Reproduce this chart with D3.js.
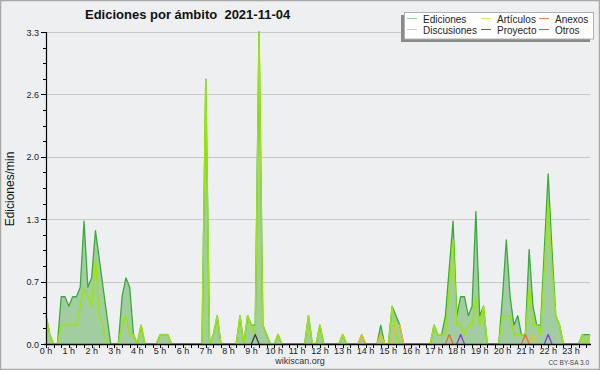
<!DOCTYPE html>
<html>
<head>
<meta charset="utf-8">
<script src="https://cdn.jsdelivr.net/npm/d3@7"></script>
<style>
html,body{margin:0;padding:0;background:#eeeff0;}
svg{display:block;}
text{font-family:"Liberation Sans",Arial,sans-serif;}
</style>
</head>
<body>
<div id="chart"></div>
<script>
// ---- data (one value per 10 minutes, edits per minute) ----
const hourLabels = ["0 h","1 h","2 h","3 h","4 h","5 h","6 h","7 h","8 h","9 h","10 h","11 h","12 h","13 h","14 h","15 h","16 h","17 h","18 h","19 h","20 h","21 h","22 h","23 h"];
const yTicks = [0, 0.66, 1.32, 1.98, 2.64, 3.3];

const ediciones = [
0.3,0.1,0,0,0.5,0.5,0.4,0.5,0.5,0.6,1.3,0.6,0.7,1.2,0.9,0.6,0.3,0,
0,0,0.5,0.7,0.6,0.1,0,0.2,0,0,0,0,0.1,0.1,0.1,0,0,0,
0,0,0,0,0,0,2.8,0,0.1,0.3,0,0,0,0,0,0.3,0,0.3,
0.2,0.2,3.3,0.2,0.1,0,0,0.1,0,0,0,0,0,0,0,0.3,0,0,
0.2,0,0,0,0,0,0.1,0,0,0,0,0.1,0,0,0,0,0.2,0,
0,0.4,0.3,0.2,0,0,0,0,0,0,0,0,0.2,0.1,0.1,0.3,0.8,1.3,
0.3,0.5,0.5,0.3,0.4,1.4,0.3,0.4,0,0,0,0,0.5,1.1,0.5,0.2,0.3,0.1,
0.1,1.0,0.4,0.2,0.2,1.0,1.8,1.0,0.3,0.2,0,0,0,0,0,0.1,0.1,0.1
];
const articulos = [
0.3,0.1,0,0,0.2,0.2,0.2,0.2,0.2,0.4,0.6,0.5,0.4,0.9,0.3,0.2,0,0,
0,0,0.2,0.3,0.1,0.1,0,0.2,0,0,0,0,0.1,0.1,0.1,0,0,0,
0,0,0,0,0,0,2.8,0,0.1,0.3,0,0,0,0,0,0.3,0,0.3,
0.2,0.1,3.3,0.2,0.1,0,0,0.1,0,0,0,0,0,0,0,0.3,0,0,
0.2,0,0,0,0,0,0.1,0,0,0,0,0,0,0,0,0,0.1,0,
0,0.4,0.1,0,0,0,0,0,0,0,0,0,0.2,0.1,0.1,0.1,0.6,1.1,
0.2,0.2,0.1,0.2,0.2,0.5,0.2,0.4,0,0,0,0,0.3,0.3,0.3,0.1,0.1,0.1,
0.1,0.6,0.2,0.2,0.1,0.8,1.5,0.8,0.3,0.2,0,0,0,0,0,0.1,0,0.1
];
// sparse series: [index, value]
const discusiones = [[83,0.1],[88,0.1],[92,0.2],[93,0.2],[128,0.1]];
const proyecto = [[55,0.1]];
const anexos = [[106,0.1],[126,0.1]];
const otros = [[109,0.1],[132,0.1]];

const legendNames = ["Ediciones","Discusiones","Artículos","Proyecto","Anexos","Otros"];
const legendColors = ["#8fd48f","#f2cf4a","#d2ef5a","#666666","#f08050","#9a55e6"];

// ---- drawing ----
const W = 600, H = 370;
const svg = d3.select("#chart").append("svg").attr("width", W).attr("height", H);
svg.append("rect").attr("x",0.5).attr("y",0.5).attr("width",W-1).attr("height",H-1)
  .attr("fill","#eeeff0").attr("stroke","#a8a8a8").attr("stroke-width",1.5);

const n = ediciones.length;
const x = d3.scaleLinear().domain([0, n-1]).range([46, 590]);
const y = d3.scaleLinear().domain([0, 3.3]).range([344, 32]);

function expand(sparse){ const a = new Array(n).fill(0); sparse.forEach(([i,v])=>a[i]=v); return a; }

// gridlines
svg.append("g").selectAll("line").data(yTicks.slice(1)).join("line")
  .attr("x1",46).attr("x2",590).attr("y1",d=>Math.round(y(d))+0.5).attr("y2",d=>Math.round(y(d))+0.5)
  .attr("stroke","#c9c9c9").attr("stroke-width",1);

// Ediciones area
const area = d3.area().x((d,i)=>x(i)).y0(y(0)).y1(d=>y(d));
svg.append("path").datum(ediciones).attr("d",area).attr("fill","#a1cda1").attr("stroke","none");
const line = d3.line().x((d,i)=>x(i)).y(d=>y(d));
svg.append("path").datum(ediciones).attr("d",line).attr("fill","none").attr("stroke","#3aab3a").attr("stroke-width",1.3).attr("stroke-linejoin","round");

function seriesLine(arr, color, w){
  const l = d3.line().x((d,i)=>x(i)).y(d=>y(d))
    .defined((d,i)=> d>0 || (i>0 && arr[i-1]>0) || (i<n-1 && arr[i+1]>0));
  svg.append("path").datum(arr).attr("d",l).attr("fill","none").attr("stroke",color)
    .attr("stroke-width",w).attr("stroke-linejoin","round");
}
seriesLine(articulos, "#9be60a", 1.5);
seriesLine(expand(discusiones), "#f0c020", 1.3);
seriesLine(expand(proyecto), "#333333", 1.2);
seriesLine(expand(anexos), "#e8702a", 1.3);
seriesLine(expand(otros), "#8a3ae0", 1.3);

// axes
const yMinor = d3.range(0, 3.3001, 0.165);
svg.append("g").selectAll("line").data(yMinor).join("line")
  .attr("x1",43).attr("x2",46).attr("y1",d=>Math.round(y(d))+0.5).attr("y2",d=>Math.round(y(d))+0.5)
  .attr("stroke","#000");
svg.append("g").selectAll("line").data(yTicks).join("line")
  .attr("x1",41).attr("x2",46).attr("y1",d=>Math.round(y(d))+0.5).attr("y2",d=>Math.round(y(d))+0.5)
  .attr("stroke","#000");
svg.append("g").selectAll("text").data(yTicks).join("text")
  .attr("x",39).attr("y",d=>y(d)+3.5).attr("text-anchor","end")
  .attr("font-size",9).attr("fill","#222").text(d=>d3.format(".1f")(d));

const xMinor = d3.range(0, n, 2);
svg.append("g").selectAll("line").data(xMinor).join("line")
  .attr("x1",d=>Math.round(x(d))+0.5).attr("x2",d=>Math.round(x(d))+0.5).attr("y1",344).attr("y2",348)
  .attr("stroke","#000");
svg.append("g").selectAll("text").data(hourLabels).join("text")
  .attr("x",(d,i)=>x(i*6)).attr("y",354).attr("text-anchor","middle")
  .attr("font-size",9).attr("fill","#222").text(d=>d);

svg.append("line").attr("x1",46.5).attr("x2",46.5).attr("y1",32).attr("y2",345).attr("stroke","#000").attr("stroke-width",1.2);
svg.append("line").attr("x1",44).attr("x2",591).attr("y1",344.5).attr("y2",344.5).attr("stroke","#000").attr("stroke-width",1.4);

// titles
svg.append("text").attr("x",85).attr("y",18.5).attr("font-size",13).attr("font-weight","bold")
  .attr("fill","#111").attr("xml:space","preserve").style("white-space","pre").text("Ediciones por ámbito  2021-11-04");
svg.append("text").attr("transform","translate(14,189) rotate(-90)").attr("text-anchor","middle")
  .attr("font-size",12).attr("fill","#111").text("Ediciones/min");
svg.append("text").attr("x",300).attr("y",364).attr("text-anchor","middle").attr("font-size",9).attr("fill","#333").text("wikiscan.org");
svg.append("text").attr("x",589).attr("y",365).attr("text-anchor","end").attr("font-size",6.5).attr("fill","#444").text("CC BY-SA 3.0");

// legend
const lg = svg.append("g");
lg.append("rect").attr("x",401).attr("y",15).attr("width",189).attr("height",27).attr("fill","#8a8a8a");
lg.append("rect").attr("x",404.5).attr("y",12.5).attr("width",189).attr("height",26.5).attr("fill","#ffffff").attr("stroke","#b0b0b0");
const colX = [407, 481, 539];
const rowY = [18.5, 29.5];
legendNames.forEach((name, k) => {
  // order: column-major by pairs -> Ediciones/Discusiones col0, Artículos/Proyecto col1, Anexos/Otros col2
  const c = Math.floor(k/2), r = k%2;
  lg.append("line").attr("x1",colX[c]).attr("x2",colX[c]+10).attr("y1",rowY[r]).attr("y2",rowY[r])
    .attr("stroke",legendColors[k]).attr("stroke-width",1);
  lg.append("text").attr("x",colX[c]+16).attr("y",rowY[r]+4).attr("font-size",10).attr("fill","#222").text(name);
});
</script>
</body>
</html>
